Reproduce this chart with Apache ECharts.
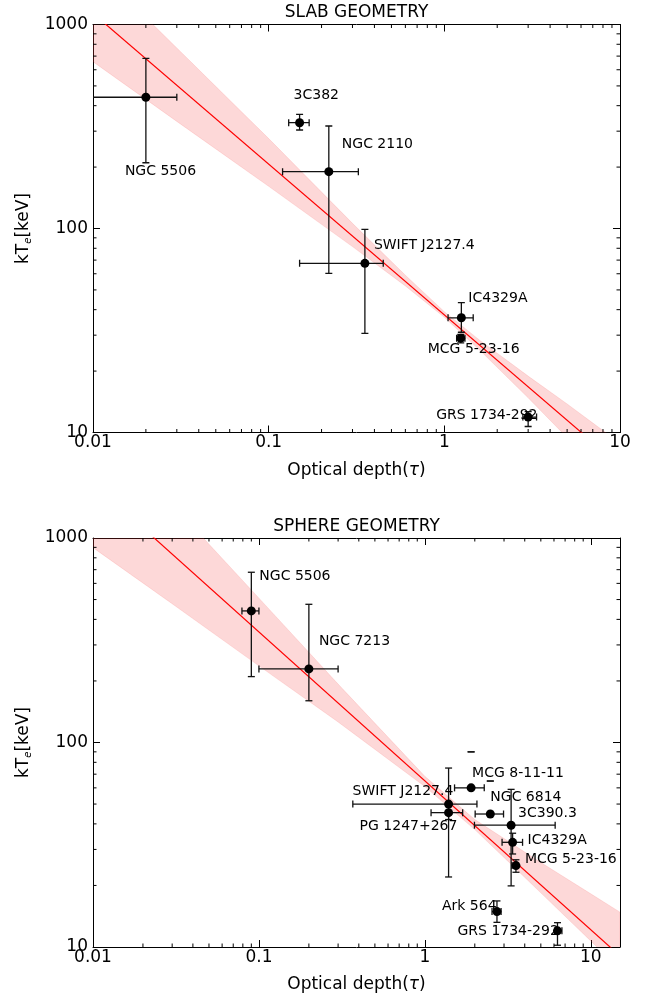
<!DOCTYPE html>
<html><head><meta charset="utf-8">
<script src="https://cdn.jsdelivr.net/npm/echarts@6/dist/echarts.min.js"></script>
<style>html,body{margin:0;padding:0;background:#fff}#c{width:654px;height:995px}</style>
</head><body><div id="c"></div>
<script>
// ---------------- DATA : SLAB GEOMETRY ----------------
const slabNames = ['NGC 5506','3C382','NGC 2110','SWIFT J2127.4','IC4329A','MCG 5-23-16','GRS 1734-292'];
const slabTau   = [0.02, 0.15, 0.22, 0.353, 1.25, 1.24, 3.0];
const slabTauLo = [0.005, 0.13, 0.12, 0.15, 1.05, 1.175, 2.8];
const slabTauHi = [0.03, 0.17, 0.324, 0.449, 1.46, 1.31, 3.35];
const slabKTe   = [440, 330, 190, 67.5, 36.5, 29, 11.9];
const slabKTeLo = [210, 304, 60.3, 30.6, 31, 27.5, 10.7];
const slabKTeHi = [682, 363, 318, 99, 43.3, 30.3, 12.65];
const slabFitTau = [0.01, 10];
const slabFitKTe = [1134, 6.88];
const slabBandTau   = [0.01, 0.03, 0.1, 0.3, 0.6, 1, 1.6, 3, 5, 10];
const slabBandUpper = [1950, 767, 276, 106, 59.0, 39.1, 28.2, 18.9, 13.8, 8.87];
const slabBandLower = [657, 335, 161, 81.5, 52.3, 36.7, 25.2, 14.8, 9.44, 5.22];

// ---------------- DATA : SPHERE GEOMETRY ----------------
const sphNames = ['NGC 5506','NGC 7213','MCG 8-11-11','NGC 6814','SWIFT J2127.4','PG 1247+267','3C390.3','IC4329A','MCG 5-23-16','Ark 564','GRS 1734-292'];
const sphTau   = [0.09, 0.20, 1.90, 2.48, 1.39, 1.39, 3.31, 3.38, 3.54, 2.72, 6.3];
const sphTauLo = [0.079, 0.10, 1.51, 2.01, 0.368, 1.09, 1.99, 2.92, 3.35, 2.54, 6.05];
const sphTauHi = [0.10, 0.30, 2.28, 2.98, 2.06, 1.69, 6.1, 3.88, 3.63, 2.88, 6.7];
const sphKTe   = [440, 229, 60, 44.7, 50, 45.4, 39.4, 32.5, 25, 14.9, 12];
const sphKTeLo = [210, 160, 90, 64.8, 22, 42, 19.9, 28.5, 23.2, 13.2, 10.2];
const sphKTeHi = [680, 474, 90, 64.8, 75, 49, 59, 36, 26.7, 16.8, 13.15];
const sphFitTau = [0.01, 15];
const sphFitKTe = [1856, 9.04];
const sphBandTau   = [0.01, 0.03, 0.1, 0.3, 1, 2, 3, 5, 10, 15];
const sphBandUpper = [3834, 1460, 508, 193, 68.3, 42.0, 33.9, 25.9, 18.2, 14.8];
const sphBandLower = [897, 477, 237, 126, 60.9, 37.5, 27.4, 18.4, 10.7, 7.79];

// ---------------- AXES / TICKS ----------------
const xTickVals = [0.01, 0.1, 1, 10];
const xTickLabels = ['0.01', '0.1', '1', '10'];
const yTickVals = [10, 100, 1000];
const yTickLabels = ['10', '100', '1000'];
const xMinorVals = [0.02,0.03,0.04,0.05,0.06,0.07,0.08,0.09,0.2,0.3,0.4,0.5,0.6,0.7,0.8,0.9,2,3,4,5,6,7,8,9];
const yMinorVals = [20,30,40,50,60,70,80,90,200,300,400,500,600,700,800,900];

// ---------------- LAYOUT (label offsets, px) ----------------
const slabLabelOffsets = [[-21,74],[-6,-27],[13,-27],[9,-18],[7,-19],[-33,11],[-92,-2]];
const sphLabelOffsets = [[8,-35],[10,-28],[1,-15],[0,-17],[-96,-13],[-89,14],[7,-12],[15,-2],[9,-6],[-55,-5],[-100,1]];

const FONT = '"DejaVu Sans", "Liberation Sans", sans-serif';

function fmtFrom(vals, labels) {
  return function (v) {
    for (let i = 0; i < vals.length; i++) {
      if (Math.abs(Math.log10(vals[i]) - Math.log10(v)) < 1e-6) return labels[i];
    }
    return '';
  };
}

function mkX(grid, max, pos) {
  const main = pos === 'bottom';
  return {
    gridIndex: grid, type: 'log', logBase: 10, min: 0.01, max: max, position: pos,
    axisLine: { show: true, onZero: false, lineStyle: { color: '#000', width: 1 } },
    axisTick: { show: true, inside: true, length: 7, lineStyle: { color: '#000', width: 1 } },
    axisLabel: { show: main, margin: 2, color: '#000', fontSize: 17, fontFamily: FONT,
                 formatter: fmtFrom(xTickVals, xTickLabels), showMaxLabel: true, showMinLabel: true },
    splitLine: { show: false }, minorTick: { show: false },
    name: main ? '{n|Optical depth(}{i|τ}{n|)}' : '',
    nameLocation: 'middle', nameGap: 28,
    nameTextStyle: { rich: {
      n: { fontSize: 17, fontFamily: FONT, color: '#000', lineHeight: 20 },
      i: { fontSize: 17, fontFamily: FONT, color: '#000', fontStyle: 'italic', lineHeight: 20 }
    } }
  };
}
function mkY(grid, pos) {
  const main = pos === 'left';
  return {
    gridIndex: grid, type: 'log', logBase: 10, min: 10, max: 1000, position: pos,
    axisLine: { show: true, onZero: false, lineStyle: { color: '#000', width: 1 } },
    axisTick: { show: true, inside: true, length: 7, lineStyle: { color: '#000', width: 1 } },
    axisLabel: { show: main, margin: 5, color: '#000', fontSize: 17, fontFamily: FONT,
                 formatter: fmtFrom(yTickVals, yTickLabels) },
    splitLine: { show: false }, minorTick: { show: false },
    name: main ? '{n|kT}{s|e}{n|[keV]}' : '',
    nameLocation: 'middle', nameGap: 49, nameRotate: 90,
    nameTextStyle: { rich: {
      n: { fontSize: 17, fontFamily: FONT, color: '#000', lineHeight: 20 },
      s: { fontSize: 10, fontFamily: FONT, color: '#000', fontStyle: 'italic', lineHeight: 20, verticalAlign: 'bottom', padding: [6, 0, 0, 0] }
    } }
  };
}

function clipRect(cs) {
  return { type: 'rect', shape: { x: cs.x, y: cs.y, width: cs.width, height: cs.height } };
}

function bandSeries(xi, yi, bx, bu, bl) {
  return {
    type: 'custom', xAxisIndex: xi, yAxisIndex: yi, silent: true, z: 1,
    data: [[bx[0], bu[0]]],
    renderItem: function (params, api) {
      const pts = [];
      for (let i = 0; i < bx.length; i++) pts.push(api.coord([bx[i], bu[i]]));
      for (let i = bx.length - 1; i >= 0; i--) pts.push(api.coord([bx[i], bl[i]]));
      return { type: 'group', clipPath: clipRect(params.coordSys), children: [
        { type: 'polygon', shape: { points: pts }, style: { fill: 'rgba(245,60,60,0.2)', stroke: 'rgba(245,60,60,0.12)', lineWidth: 1 } }
      ] };
    }
  };
}

function fitSeries(xi, yi, fx, fy) {
  return {
    type: 'line', xAxisIndex: xi, yAxisIndex: yi, z: 2, silent: true, clip: true,
    data: fx.map((v, i) => [v, fy[i]]), symbol: 'none',
    lineStyle: { color: '#ff0000', width: 1.2 }
  };
}

function errSeries(xi, yi, t, tl, th, k, kl, kh) {
  return {
    type: 'custom', xAxisIndex: xi, yAxisIndex: yi, silent: true, z: 3,
    encode: { x: 0, y: 1 },
    data: t.map((v, i) => [v, k[i], tl[i], th[i], kl[i], kh[i]]),
    renderItem: function (params, api) {
      const c = api.coord([api.value(0), api.value(1)]);
      const xl = api.coord([api.value(2), api.value(1)])[0];
      const xh = api.coord([api.value(3), api.value(1)])[0];
      const yl = api.coord([api.value(0), api.value(4)])[1];
      const yh = api.coord([api.value(0), api.value(5)])[1];
      const cap = 3.5;
      const st = { stroke: '#111', lineWidth: 1.3 };
      const L = (x1, y1, x2, y2) => ({ type: 'line', shape: { x1, y1, x2, y2 }, style: st });
      return { type: 'group', clipPath: clipRect(params.coordSys), children: [
        L(xl, c[1], xh, c[1]), L(xl, c[1] - cap, xl, c[1] + cap), L(xh, c[1] - cap, xh, c[1] + cap),
        L(c[0], yl, c[0], yh), L(c[0] - cap, yl, c[0] + cap, yl), L(c[0] - cap, yh, c[0] + cap, yh)
      ] };
    }
  };
}

function pointSeries(xi, yi, t, k, names, offs) {
  return {
    type: 'scatter', xAxisIndex: xi, yAxisIndex: yi, z: 4, silent: true,
    symbol: 'circle', symbolSize: 9, itemStyle: { color: '#000', opacity: 1 },
    data: t.map((v, i) => ({ value: [v, k[i]], name: names[i],
      label: { show: true, position: 'inside', align: 'left', verticalAlign: 'middle',
               offset: offs[i], formatter: names[i], color: '#000', opacity: 1, fontSize: 14, fontFamily: FONT } }))
  };
}

function minorTickSeries(xi, yi) {
  return {
    type: 'custom', xAxisIndex: xi, yAxisIndex: yi, silent: true, z: 5,
    data: [[xMinorVals[0], yMinorVals[0]]],
    renderItem: function (params, api) {
      const cs = params.coordSys, len = 3.5, ch = [];
      const st = { stroke: '#000', lineWidth: 1 };
      xMinorVals.forEach(v => {
        const p = api.coord([v, yMinorVals[0]])[0];
        if (p > cs.x + 0.5 && p < cs.x + cs.width - 0.5) {
          ch.push({ type: 'line', shape: { x1: p, y1: cs.y + cs.height, x2: p, y2: cs.y + cs.height - len }, style: st });
          ch.push({ type: 'line', shape: { x1: p, y1: cs.y, x2: p, y2: cs.y + len }, style: st });
        }
      });
      yMinorVals.forEach(v => {
        const q = api.coord([xMinorVals[0], v])[1];
        ch.push({ type: 'line', shape: { x1: cs.x, y1: q, x2: cs.x + len, y2: q }, style: st });
        ch.push({ type: 'line', shape: { x1: cs.x + cs.width, y1: q, x2: cs.x + cs.width - len, y2: q }, style: st });
      });
      return { type: 'group', children: ch };
    }
  };
}

const chart = echarts.init(document.getElementById('c'), null, { renderer: 'canvas' });
chart.setOption({
  animation: false,
  backgroundColor: '#fff',
  graphic: [
    { type: 'text', x: 356.5, y: 13, style: { text: 'SLAB GEOMETRY', font: '17px ' + FONT, fill: '#000', align: 'center', verticalAlign: 'middle' } },
    { type: 'text', x: 356.5, y: 527, style: { text: 'SPHERE GEOMETRY', font: '17px ' + FONT, fill: '#000', align: 'center', verticalAlign: 'middle' } }
  ],
  grid: [
    { left: 93, top: 24.5, width: 527, height: 408 },
    { left: 93, top: 538, width: 527, height: 409 }
  ],
  xAxis: [ mkX(0, 10, 'bottom'), mkX(0, 10, 'top'), mkX(1, 15, 'bottom'), mkX(1, 15, 'top') ],
  yAxis: [ mkY(0, 'left'), mkY(0, 'right'), mkY(1, 'left'), mkY(1, 'right') ],
  series: [
    bandSeries(0, 0, slabBandTau, slabBandUpper, slabBandLower),
    fitSeries(0, 0, slabFitTau, slabFitKTe),
    errSeries(0, 0, slabTau, slabTauLo, slabTauHi, slabKTe, slabKTeLo, slabKTeHi),
    pointSeries(0, 0, slabTau, slabKTe, slabNames, slabLabelOffsets),
    minorTickSeries(0, 0),
    bandSeries(2, 2, sphBandTau, sphBandUpper, sphBandLower),
    fitSeries(2, 2, sphFitTau, sphFitKTe),
    errSeries(2, 2, sphTau, sphTauLo, sphTauHi, sphKTe, sphKTeLo, sphKTeHi),
    pointSeries(2, 2, sphTau, sphKTe, sphNames, sphLabelOffsets),
    minorTickSeries(2, 2)
  ]
});
</script>
</body></html>
